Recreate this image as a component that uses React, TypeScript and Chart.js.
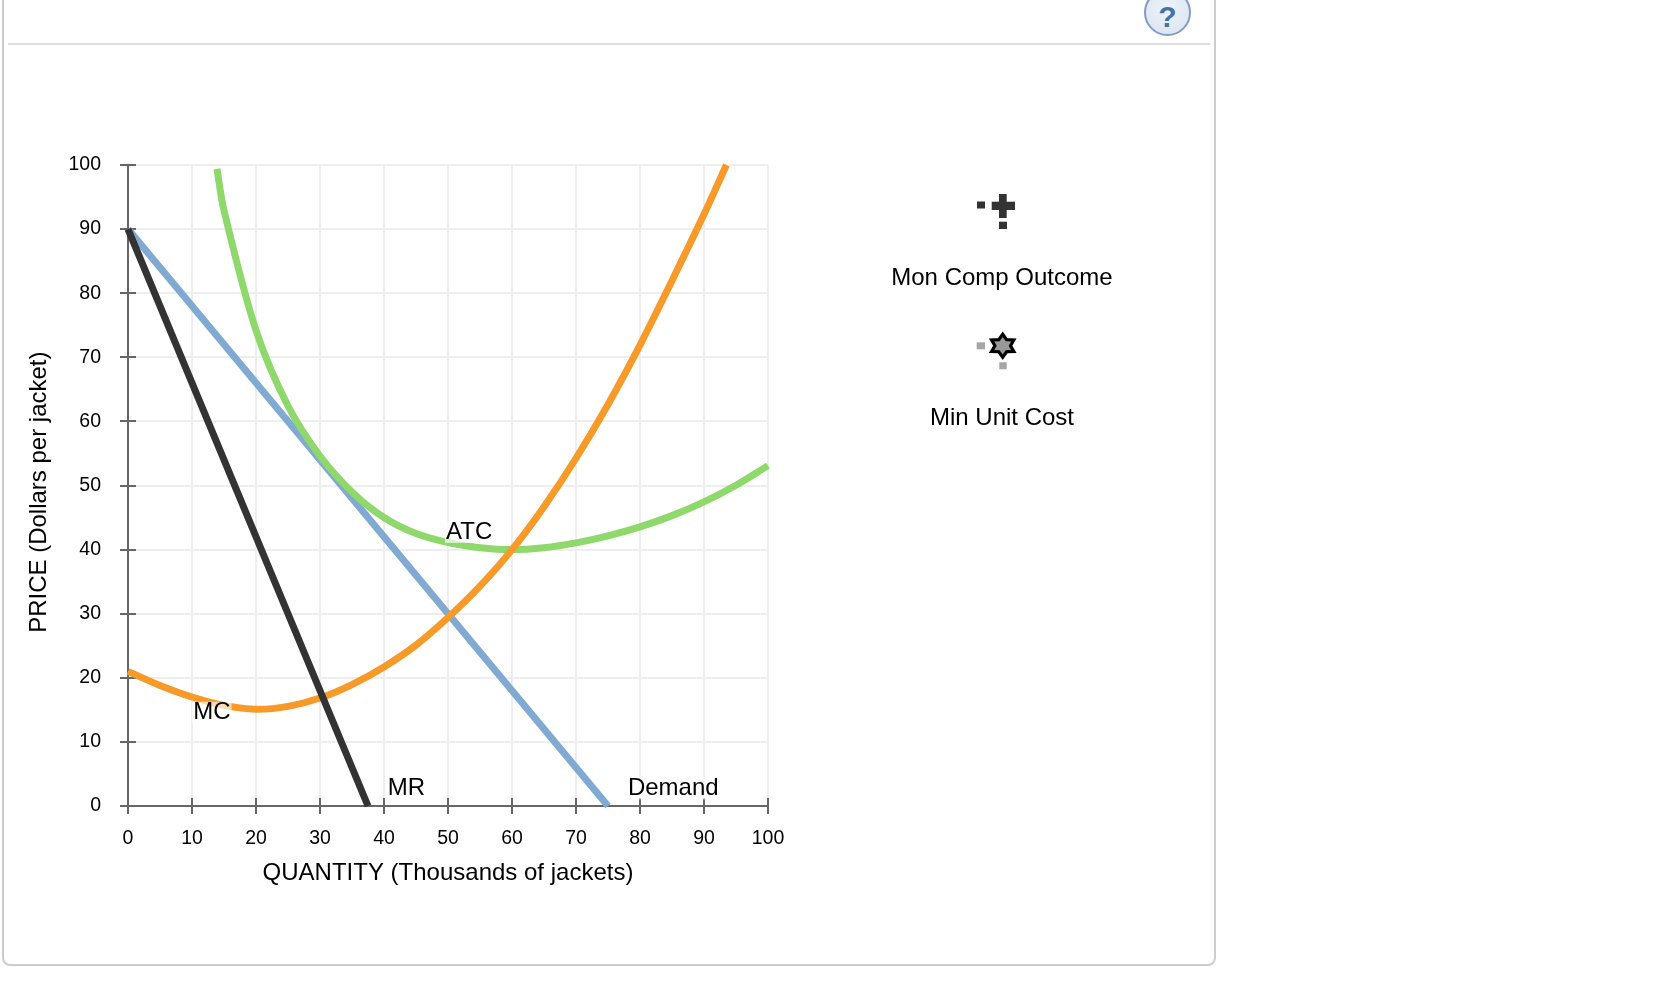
import React, { useEffect, useRef } from "react";
import { Chart, registerables } from "chart.js";

Chart.register(...registerables);

// ---------- data ----------
const xTickValues = [0, 10, 20, 30, 40, 50, 60, 70, 80, 90, 100];
const yTickValues = [0, 10, 20, 30, 40, 50, 60, 70, 80, 90, 100];

const demandQ = [0, 75];
const demandP = [90, 0];

const mrQ = [0, 37.5];
const mrP = [90, 0];

const mcQ = [0, 5, 10, 15, 20, 25, 30, 35, 40, 45, 50, 55, 60, 65, 70, 75, 80, 85, 90, 93.5];
const mcP = [21, 18.8, 17.0, 15.7, 15.1, 15.55, 16.85, 18.95, 21.7, 25.1, 29.4, 34.3, 40, 46.7, 54.25, 62.65, 71.9, 81.95, 92.3, 100];

const atcQ = [13.9, 15, 20, 25, 30, 35, 40, 45, 50, 55, 60, 65, 70, 75, 80, 85, 90, 95, 100];
const atcP = [99.4, 92.9, 74.2, 62.4, 54.6, 49.0, 45.0, 42.5, 41.1, 40.3, 40, 40.3, 41.05, 42.15, 43.55, 45.3, 47.45, 50.05, 53.1];

const curveLabels = ["ATC", "MC", "MR", "Demand"];
const curveLabelQ = [53.3, 13.1, 43.5, 85.2];
const curveLabelP = [42.75, 14.55, 2.75, 2.75];

const legendNames = ["Mon Comp Outcome", "Min Unit Cost"];

const xTitle = "QUANTITY (Thousands of jackets)";
const yTitle = "PRICE (Dollars per jacket)";

// ---------- helpers ----------
const FONT = '"Liberation Sans", Arial, Helvetica, sans-serif';

function pts(q: number[], p: number[]) {
  return q.map((v, i) => ({ x: v, y: p[i] }));
}

const crossTicksPlugin = {
  id: "crossTicks",
  beforeDatasetsDraw(chart: any) {
    const { ctx, scales } = chart;
    const x = scales.x;
    const y = scales.y;
    ctx.save();
    ctx.strokeStyle = "#666666";
    ctx.lineWidth = 2;
    ctx.beginPath();
    x.ticks.forEach((t: any) => {
      const px = Math.round(x.getPixelForValue(t.value));
      ctx.moveTo(px, y.bottom - 8);
      ctx.lineTo(px, y.bottom + 8);
    });
    y.ticks.forEach((t: any) => {
      const py = Math.round(y.getPixelForValue(t.value));
      ctx.moveTo(x.left - 8, py);
      ctx.lineTo(x.left + 8, py);
    });
    ctx.stroke();
    ctx.restore();
  },
};

const curveLabelPlugin = {
  id: "curveLabels",
  afterDatasetsDraw(chart: any) {
    const { ctx, scales } = chart;
    ctx.save();
    ctx.font = `24px ${FONT}`;
    ctx.textAlign = "center";
    ctx.textBaseline = "middle";
    curveLabels.forEach((txt, i) => {
      const px = scales.x.getPixelForValue(curveLabelQ[i]);
      const py = scales.y.getPixelForValue(curveLabelP[i]);
      const w = ctx.measureText(txt).width;
      ctx.fillStyle = "rgba(255,255,255,0.65)";
      ctx.fillRect(px - w / 2 - 1, py - 11, w + 2, 22);
      ctx.fillStyle = "#000000";
      ctx.fillText(txt, px, py);
    });
    ctx.restore();
  },
};

function ChartCanvas() {
  const ref = useRef<HTMLCanvasElement | null>(null);
  useEffect(() => {
    if (!ref.current) return;
    const lineBase = {
      pointRadius: 0,
      pointHoverRadius: 0,
      borderWidth: 7,
      fill: false,
      clip: false as any,
    };
    const chart = new Chart(ref.current, {
      type: "line",
      data: {
        datasets: [
          { ...lineBase, label: "MR", data: pts(mrQ, mrP), borderColor: "#333333", tension: 0 },
          { ...lineBase, label: "MC", data: pts(mcQ, mcP), borderColor: "#f89a2a", tension: 0.33 },
          { ...lineBase, label: "ATC", data: pts(atcQ, atcP), borderColor: "#8ed86c", tension: 0.33 },
          { ...lineBase, label: "Demand", data: pts(demandQ, demandP), borderColor: "#80aad2", tension: 0 },
        ],
      },
      options: {
        responsive: false,
        devicePixelRatio: 1,
        animation: false,
        events: [],
        layout: { padding: { top: 165, left: 0, right: 132, bottom: 0 } },
        plugins: {
          legend: { display: false },
          tooltip: { enabled: false },
          title: { display: false },
        },
        scales: {
          x: {
            type: "linear",
            min: 0,
            max: 100,
            afterFit: (s: any) => {
              s.height = 184;
            },
            afterBuildTicks: (s: any) => {
              s.ticks = xTickValues.map((v) => ({ value: v }));
            },
            ticks: {
              padding: 21,
              color: "#000000",
              font: { family: FONT, size: 19.5 },
              maxRotation: 0,
              autoSkip: false,
            },
            grid: { color: "#eeeeee", lineWidth: 2, drawTicks: false },
            border: { display: true, color: "#666666", width: 2 },
            title: {
              display: true,
              text: xTitle,
              color: "#000000",
              font: { family: FONT, size: 24 },
              padding: { top: 0, bottom: 102.2 },
            },
          },
          y: {
            type: "linear",
            min: 0,
            max: 100,
            afterFit: (s: any) => {
              s.width = 128;
            },
            afterBuildTicks: (s: any) => {
              s.ticks = yTickValues.map((v) => ({ value: v }));
            },
            ticks: {
              padding: 27,
              color: "#000000",
              font: { family: FONT, size: 19.5 },
              autoSkip: false,
            },
            grid: { color: "#eeeeee", lineWidth: 2, drawTicks: false },
            border: { display: true, color: "#666666", width: 2 },
            title: {
              display: true,
              text: yTitle + "  ",
              color: "#000000",
              font: { family: FONT, size: 24 },
              padding: { top: 24.7, bottom: 0 },
            },
          },
        },
      } as any,
      plugins: [crossTicksPlugin, curveLabelPlugin],
    });
    return () => chart.destroy();
  }, []);
  return (
    <canvas
      ref={ref}
      width={900}
      height={990}
      style={{ position: "absolute", left: 0, top: 0, width: 900, height: 990 }}
    />
  );
}

function StarIcon() {
  const cx = 1002.7;
  const cy = 345.7;
  const R = 11.5;
  const r = (R / Math.sqrt(3)) * 1.05;
  const p: string[] = [];
  for (let i = 0; i < 12; i++) {
    const ang = -Math.PI / 2 + (i * Math.PI) / 6;
    const rad = i % 2 === 0 ? R : r;
    p.push(`${(cx + rad * Math.cos(ang) * 1.12).toFixed(2)},${(cy + rad * Math.sin(ang)).toFixed(2)}`);
  }
  return <polygon points={p.join(" ")} fill="#999999" stroke="#000000" strokeWidth={3.2} strokeLinejoin="miter" />;
}

export default function App() {
  return (
    <div
      style={{
        position: "absolute",
        left: 0,
        top: 0,
        width: 1674,
        height: 990,
        overflow: "hidden",
        background: "#ffffff",
        fontFamily: FONT,
      }}
    >
      {/* panel frame */}
      <div
        style={{
          position: "absolute",
          left: 2,
          top: -20,
          width: 1214,
          height: 986,
          boxSizing: "border-box",
          border: "2px solid #cccccc",
          borderRadius: 8,
        }}
      />
      <div style={{ position: "absolute", left: 8, top: 43, width: 1202, height: 2, background: "#dddddd" }} />
      {/* help button */}
      <div
        style={{
          position: "absolute",
          left: 1144,
          top: -11,
          width: 47,
          height: 47,
          boxSizing: "border-box",
          borderRadius: "50%",
          border: "2.5px solid #7d9ec7",
          background: "radial-gradient(circle at 50% 40%, #eef3f9 0%, #d8e3ef 100%)",
        }}
      />
      <div
        style={{
          position: "absolute",
          left: 1144,
          top: -7,
          width: 47,
          height: 47,
          lineHeight: "47px",
          textAlign: "center",
          fontSize: 30,
          fontWeight: "bold",
          color: "#4372a9",
        }}
      >
        ?
      </div>

      <ChartCanvas />

      {/* legend */}
      <svg width={1674} height={990} style={{ position: "absolute", left: 0, top: 0, pointerEvents: "none" }}>
        <rect x={977} y={201.5} width={8} height={7} fill="#333333" />
        <rect x={991.7} y={201.7} width={23.3} height={8.3} fill="#333333" />
        <rect x={999} y={194} width={7.7} height={24} fill="#333333" />
        <rect x={999} y={221.7} width={8} height={7.3} fill="#333333" />

        <rect x={976.7} y={342.3} width={8.3} height={7} fill="#a6a6a6" />
        <rect x={999.3} y={362.3} width={7.4} height={7} fill="#a6a6a6" />
        <StarIcon />
      </svg>
      <div
        style={{
          position: "absolute",
          left: 852,
          width: 300,
          top: 264.6,
          textAlign: "center",
          fontSize: 24,
          lineHeight: "24px",
          color: "#000000",
          whiteSpace: "nowrap",
        }}
      >
        {legendNames[0]}
      </div>
      <div
        style={{
          position: "absolute",
          left: 852,
          width: 300,
          top: 404.6,
          textAlign: "center",
          fontSize: 24,
          lineHeight: "24px",
          color: "#000000",
          whiteSpace: "nowrap",
        }}
      >
        {legendNames[1]}
      </div>
    </div>
  );
}
